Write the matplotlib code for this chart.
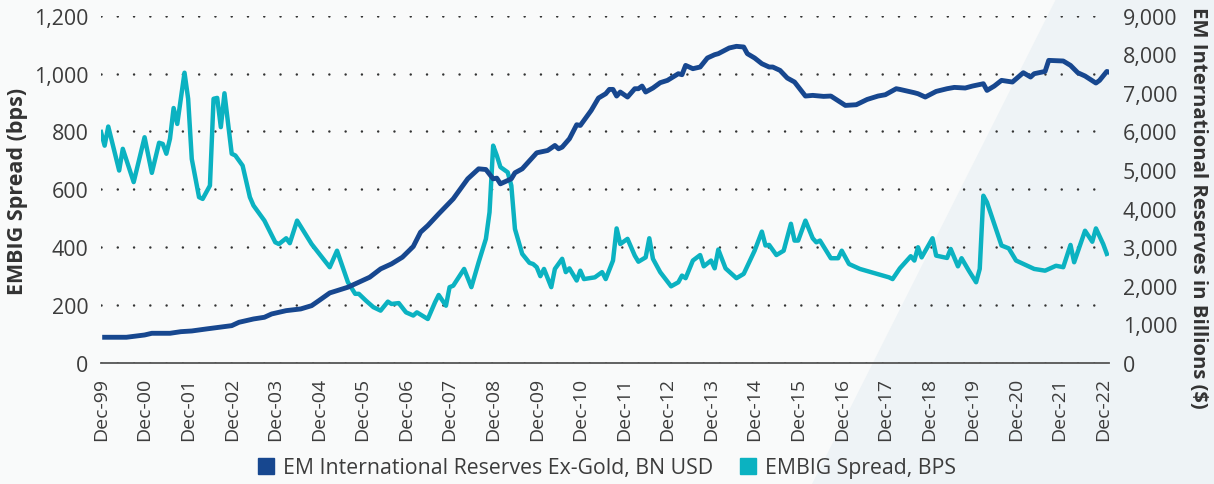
import matplotlib
matplotlib.use("Agg")
import matplotlib.pyplot as plt
from matplotlib.patches import Polygon
from matplotlib.lines import Line2D

plt.rcParams['font.family'] = ['Open Sans', 'DejaVu Sans']

# months counted from Dec-99 (0 = Dec-99, 12 = Dec-00, ...)
tick_months = [0, 12, 24, 36, 48, 60, 72, 84, 96, 108, 120, 132,
               144, 156, 168, 180, 192, 204, 216, 228, 240, 252, 264, 276]
tick_labels = ['Dec-99', 'Dec-00', 'Dec-01', 'Dec-02', 'Dec-03', 'Dec-04',
               'Dec-05', 'Dec-06', 'Dec-07', 'Dec-08', 'Dec-09', 'Dec-10',
               'Dec-11', 'Dec-12', 'Dec-13', 'Dec-14', 'Dec-15', 'Dec-16',
               'Dec-17', 'Dec-18', 'Dec-19', 'Dec-20', 'Dec-21', 'Dec-22']

# EMBIG spread, bps (left axis)
spread_m = [0, 1, 2, 5, 6, 9, 12, 14, 16, 17, 18, 19, 20, 21, 23, 24, 25, 27, 28, 30,
            31, 32, 33, 34, 36, 37, 39, 41, 42, 45, 48, 49, 51, 52, 54, 58, 63, 65, 68, 70,
            71, 73, 75, 77, 79, 80, 82, 84, 86, 87, 90, 92, 93, 95, 96, 97, 100, 102, 104, 106,
            107, 108, 109, 110, 112, 113, 114, 116, 118, 119, 120, 121, 122, 124, 125, 127, 128, 129, 131, 132,
            133, 136, 138, 139, 141, 142, 143, 145, 147, 148, 150, 151, 152, 154, 157, 159, 160, 161, 163, 165,
            166, 168, 169, 170, 172, 175, 177, 180, 182, 183, 184, 186, 188, 190, 191, 192, 194, 196, 197, 198,
            201, 203, 204, 206, 209, 217, 218, 220, 223, 224, 225, 226, 229, 230, 233, 234, 236, 237, 239, 241,
            242, 243, 244, 248, 250, 252, 257, 260, 263, 265, 267, 268, 271, 273, 274, 276, 277]
spread = [798, 751, 817, 665, 740, 625, 780, 657, 761, 757, 723, 775, 881, 826, 1003, 913, 705, 573, 567, 613,
          913, 916, 815, 932, 723, 717, 682, 573, 544, 492, 417, 411, 431, 414, 492, 411, 331, 388, 279, 239,
          239, 215, 193, 181, 212, 204, 207, 175, 164, 175, 152, 210, 235, 198, 262, 267, 325, 262, 348, 429,
          521, 751, 717, 677, 659, 613, 463, 377, 346, 342, 331, 300, 325, 262, 325, 360, 314, 327, 285, 319,
          290, 296, 314, 290, 354, 465, 411, 429, 371, 350, 365, 431, 360, 314, 265, 279, 302, 293, 354, 373,
          334, 354, 327, 392, 327, 293, 308, 388, 454, 406, 408, 373, 388, 481, 423, 423, 492, 431, 417, 423,
          362, 362, 388, 342, 325, 296, 290, 327, 369, 354, 400, 365, 431, 371, 363, 394, 334, 362, 319, 279,
          325, 578, 555, 406, 396, 354, 325, 319, 336, 331, 408, 348, 457, 419, 465, 411, 377]

# EM international reserves ex-gold, bn USD (right axis)
reserves_m = [1, 7, 12, 14, 19, 22, 25, 29, 36, 38, 42, 45, 47, 51, 55, 58, 60, 63, 65, 68,
              71, 74, 77, 80, 83, 86, 88, 90, 93, 97, 101, 104, 106, 108, 109, 110, 113, 114, 116, 120,
              123, 125, 126, 127, 129, 131, 132, 135, 137, 139, 140, 141, 142, 143, 145, 147, 148, 149, 150, 152,
              154, 156, 159, 160, 161, 163, 165, 167, 169, 170, 173, 175, 177, 178, 180, 182, 184, 185, 187, 189,
              191, 194, 196, 199, 201, 205, 208, 211, 214, 216, 219, 220, 224, 225, 227, 230, 233, 235, 238, 240,
              243, 244, 246, 248, 251, 254, 256, 257, 260, 261, 265, 267, 269, 271, 274, 275, 277, 278]
reserves = [667, 667, 726, 770, 770, 812, 830, 882, 968, 1055, 1141, 1185, 1271, 1357, 1401, 1486, 1616, 1816, 1875, 1964,
            2093, 2223, 2438, 2568, 2742, 3020, 3390, 3562, 3865, 4254, 4773, 5032, 5014, 4773, 4791, 4643, 4773, 4929, 5032, 5447,
            5507, 5637, 5551, 5594, 5811, 6174, 6156, 6545, 6866, 6978, 7090, 7090, 6918, 7022, 6892, 7108, 7108, 7177, 7022, 7126,
            7264, 7324, 7497, 7471, 7712, 7627, 7670, 7904, 7990, 8016, 8163, 8206, 8189, 8016, 7904, 7756, 7670, 7670, 7583, 7385,
            7281, 6918, 6935, 6909, 6918, 6675, 6693, 6830, 6918, 6952, 7108, 7090, 7004, 6978, 6892, 7038, 7108, 7142, 7126, 7177,
            7237, 7064, 7177, 7324, 7281, 7523, 7411, 7497, 7556, 7842, 7826, 7712, 7523, 7437, 7255, 7324, 7556, 7523]

navy = '#17478f'
teal = '#0bb2c1'
text_col = '#3c3c3c'

fig = plt.figure(figsize=(12.14, 4.85), dpi=100, facecolor='#f9fafa')
# light diagonal panel on the right, behind everything
fig.patches.append(Polygon([(1056 / 1214, 1), (1, 1), (1, 0), (812 / 1214, 0)],
                           closed=True, transform=fig.transFigure,
                           facecolor='#eef3f6', edgecolor='none', zorder=-5))

ax = fig.add_axes([101 / 1214, 121 / 485, 1008 / 1214, 347.3 / 485])
ax.patch.set_alpha(0)
ax.set_xlim(0, 277.6)
ax.set_ylim(0, 1200)
ax.set_yticks([0, 200, 400, 600, 800, 1000, 1200])
ax.set_yticklabels(['0', '200', '400', '600', '800', '1,000', '1,200'])
ax.set_xticks(tick_months)
ax.set_xticklabels(tick_labels, rotation=90)
ax.tick_params(axis='both', length=0, colors=text_col)
ax.tick_params(axis='y', pad=9, labelsize=15.4)
ax.tick_params(axis='x', pad=10, labelsize=14)
ax.grid(axis='y', color='#333333', linewidth=1.8, linestyle=(0, (0.01, 6.5)),
        dash_capstyle='round')
ax.set_axisbelow(True)
for s in ['top', 'left', 'right']:
    ax.spines[s].set_visible(False)
ax.spines['bottom'].set_color('#555555')
ax.spines['bottom'].set_linewidth(1.3)
ax.spines['bottom'].set_zorder(3)

ax.plot(spread_m, spread, color=teal, lw=3.2, solid_joinstyle='round', zorder=2)

ax2 = ax.twinx()
ax2.set_ylim(0, 9000)
ax2.set_yticks(range(0, 9001, 1000))
ax2.set_yticklabels(['0', '1,000', '2,000', '3,000', '4,000', '5,000', '6,000', '7,000', '8,000', '9,000'])
ax2.tick_params(axis='y', length=0, labelsize=15.4, colors=text_col, pad=10)
for s in ax2.spines.values():
    s.set_visible(False)
ax2.plot(reserves_m, reserves, color=navy, lw=3.5, solid_joinstyle='round')

fig.text(18 / 1214, 1 - 191 / 485, 'EMBIG Spread (bps)', rotation=90, ha='center', va='center',
         fontsize=15.5, fontweight='bold', color='#333333')
fig.text(1198 / 1214, 1 - 208 / 485, 'EM International Reserves in Billions ($)', rotation=-90,
         ha='center', va='center', fontsize=14.6, fontweight='bold', color='#333333')

handles = [Line2D([], [], marker='s', ls='', color=navy, markersize=11),
           Line2D([], [], marker='s', ls='', color=teal, markersize=11)]
fig.legend(handles, ['EM International Reserves Ex-Gold, BN USD', 'EMBIG Spread, BPS'],
           loc='center', bbox_to_anchor=(0.5, 1 - 469 / 485), ncol=2, frameon=False,
           fontsize=15.3, labelcolor=text_col, handlelength=0.8, handletextpad=0.4,
           columnspacing=1.25)

fig.savefig('out.png', dpi=100, facecolor=fig.get_facecolor())
